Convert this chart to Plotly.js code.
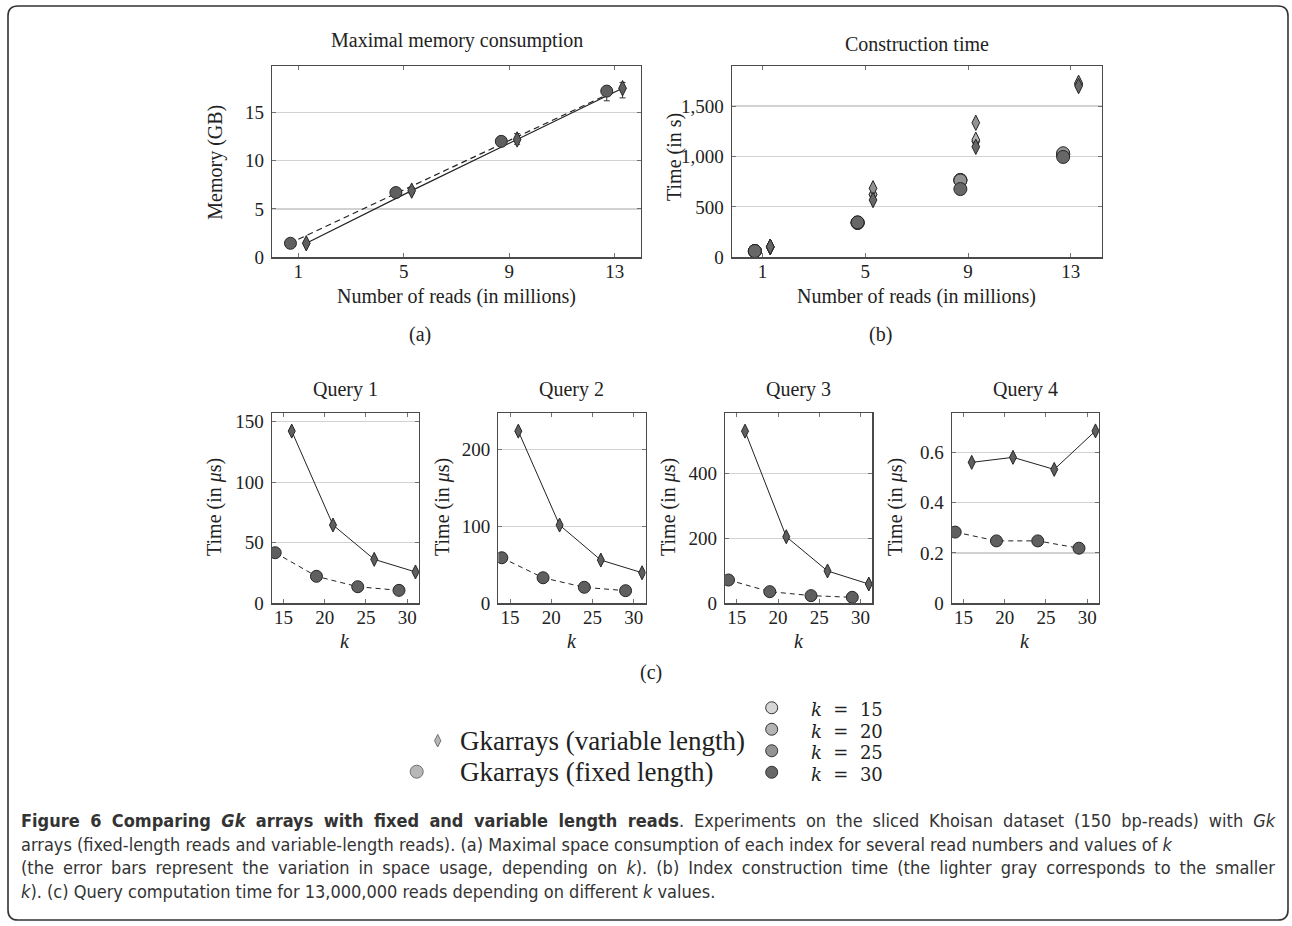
<!DOCTYPE html>
<html><head><meta charset="utf-8">
<script src="https://cdn.plot.ly/plotly-3.0.1.min.js"></script>
<style>html,body{margin:0;padding:0;background:#fff}#chart{width:1292px;height:926px}</style>
</head><body><div id="chart"></div><script>
// ---------- data ----------
const reads = [1, 5, 9, 13];
const memFixed = [1.45, 6.7, 12.0, 17.2];
const memFixedErrPlus = [0.15, 0.2, 0.25, 0.5];
const memFixedErrMinus = [0.15, 0.2, 0.25, 1.0];
const memVariable = [1.45, 6.9, 12.2, 17.5];
const memVarErrPlus = [0.2, 0.3, 0.6, 0.6];
const memVarErrMinus = [0.2, 0.3, 0.5, 1.0];
const memFixedTrend = [1.87, 7.0, 12.1, 17.2];

const kValues = [15, 20, 25, 30];
const kLabels = ['k = 15', 'k = 20', 'k = 25', 'k = 30'];
const kColors = ['#d6d6d6', '#b4b4b4', '#939393', '#676767'];

const buildFixedK15 = [60, 340, 766, 1020];
const buildFixedK20 = [62, 343, 766, 1022];
const buildFixedK25 = [62, 345, 762, 1032];
const buildFixedK30 = [62, 346, 677, 995];
const buildVarK15 = [100, 620, 1150, 1715];
const buildVarK20 = [103, 624, 1165, 1720];
const buildVarK25 = [105, 684, 1334, 1730];
const buildVarK30 = [105, 568, 1096, 1698];

const queryTitles = ['Query 1', 'Query 2', 'Query 3', 'Query 4'];
const q1Fixed = [41.8, 22.3, 13.7, 10.7];
const q1Var = [142.3, 64.7, 36.3, 25.9];
const q2Fixed = [59.2, 33.2, 20.8, 16.4];
const q2Var = [223.8, 101.7, 56.2, 39.7];
const q3Fixed = [71.7, 35.9, 23.6, 18.5];
const q3Var = [530, 205, 99.5, 59.4];
const q4Fixed = [0.283, 0.248, 0.248, 0.219];
const q4Var = [0.560, 0.580, 0.532, 0.685];

const seriesLabels = ['Gkarrays (variable length)', 'Gkarrays (fixed length)'];

// ---------- layout helpers ----------
const W = 1292, H = 926;
const px = x => x / W;
const py = y => 1 - y / H;
const SERIF = 'Liberation Serif, Times New Roman, serif';
const TXT = '#222';
const MARK = '#5f5f5f';
const EDGE = '#262626';

const readsFixedX = reads.map(r => r - 0.3);
const readsVarX = reads.map(r => r + 0.3);
const kFixedX = kValues.map(k => k - 1);
const kVarX = kValues.map(k => k + 1);

function xAxis(x0, x1, range, tickvals, anchor) {
  return {domain: [px(x0), px(x1)], range: range, tickvals: tickvals, anchor: anchor,
    showline: true, linecolor: '#4a4a4a', linewidth: 1.2, mirror: 'allticks',
    ticks: 'inside', ticklen: 4, tickwidth: 1, tickcolor: '#707070',
    showgrid: false, zeroline: false, fixedrange: true, ticklabelstandoff: -3,
    tickfont: {family: SERIF, size: 19, color: TXT}};
}
function yAxis(y0, y1, range, tickvals, anchor, fmt) {
  const a = {domain: [py(y1), py(y0)], range: range, tickvals: tickvals, anchor: anchor,
    showline: true, linecolor: '#4a4a4a', linewidth: 1.2, mirror: 'allticks',
    ticks: 'inside', ticklen: 4, tickwidth: 1, tickcolor: '#707070',
    showgrid: true, gridcolor: '#d2d2d2', gridwidth: 1.2, zeroline: false, fixedrange: true,
    ticklabelstandoff: 3,
    tickfont: {family: SERIF, size: 19, color: TXT}};
  if (fmt) a.tickformat = fmt;
  return a;
}

const circle = (size, color) => ({symbol: 'circle', size: size, color: color, line: {color: EDGE, width: 1}});
const diamond = (size, color) => ({symbol: 'diamond-tall', size: size, color: color, line: {color: EDGE, width: 1}});

const traces = [];
// ---- (a) memory ----
traces.push({x: reads, y: memFixedTrend, xaxis: 'x', yaxis: 'y', mode: 'lines',
  line: {color: '#222', width: 1.2, dash: '6px,4px'}, hoverinfo: 'skip'});
traces.push({x: readsVarX, y: memVariable, xaxis: 'x', yaxis: 'y', mode: 'lines+markers',
  line: {color: '#222', width: 1.2}, marker: diamond(11, MARK),
  error_y: {type: 'data', array: memVarErrPlus, arrayminus: memVarErrMinus, color: '#333', thickness: 1, width: 3}});
traces.push({x: readsFixedX, y: memFixed, xaxis: 'x', yaxis: 'y', mode: 'markers',
  marker: circle(12, MARK),
  error_y: {type: 'data', array: memFixedErrPlus, arrayminus: memFixedErrMinus, color: '#333', thickness: 1, width: 3}});

// ---- (b) construction time ----
const buildFixed = [buildFixedK15, buildFixedK20, buildFixedK25, buildFixedK30];
const buildVar = [buildVarK15, buildVarK20, buildVarK25, buildVarK30];
kValues.forEach((k, i) => {
  traces.push({x: readsFixedX, y: buildFixed[i], xaxis: 'x2', yaxis: 'y2', mode: 'markers',
    marker: circle(13, kColors[i]), name: 'fixed k=' + k});
  traces.push({x: readsVarX, y: buildVar[i], xaxis: 'x2', yaxis: 'y2', mode: 'markers',
    marker: diamond(11, kColors[i]), name: 'variable k=' + k});
});

// ---- (c) queries ----
const qFixed = [q1Fixed, q2Fixed, q3Fixed, q4Fixed];
const qVar = [q1Var, q2Var, q3Var, q4Var];
qFixed.forEach((f, i) => {
  const xa = 'x' + (i + 3), ya = 'y' + (i + 3);
  traces.push({x: kFixedX, y: f, xaxis: xa, yaxis: ya, mode: 'lines+markers',
    line: {color: '#222', width: 1, dash: '5px,4px'}, marker: circle(12, MARK)});
  traces.push({x: kVarX, y: qVar[i], xaxis: xa, yaxis: ya, mode: 'lines+markers',
    line: {color: '#222', width: 1}, marker: diamond(10, MARK)});
});

// ---- legend symbols (hidden axes, index based) ----
const legendSymbolX = [0, -1];
traces.push({x: legendSymbolX, y: [0, 1], xaxis: 'x7', yaxis: 'y7', mode: 'markers',
  marker: {symbol: ['diamond-tall', 'circle'], size: [9, 13], color: '#9a9a9a', line: {color: '#333', width: 1}},
  hoverinfo: 'skip'});
traces.push({x: kValues.map(() => 0), y: kValues.map((k, i) => i), xaxis: 'x8', yaxis: 'y8', mode: 'markers',
  marker: {symbol: 'circle', size: 12, color: kColors, line: {color: '#333', width: 1}}, hoverinfo: 'skip'});

// ---------- layout ----------
const hidden = (d, r) => ({domain: d, range: r, visible: false, fixedrange: true});
const layout = {
  width: W, height: H, margin: {l: 0, r: 0, t: 0, b: 0},
  paper_bgcolor: '#fff', plot_bgcolor: 'rgba(0,0,0,0)', showlegend: false,
  xaxis: xAxis(272, 641, [0, 14], reads, 'y'),
  yaxis: yAxis(66, 257.3, [0, 19.8], [0, 5, 10, 15], 'x'),
  xaxis2: xAxis(731.7, 1101.7, [-0.2, 14.2], reads, 'y2'),
  yaxis2: yAxis(65.7, 257.3, [0, 1900], [0, 500, 1000, 1500], 'x2', ',d'),
  xaxis3: xAxis(271.7, 419, [13.575, 31.425], kValues, 'y3'),
  yaxis3: yAxis(413.3, 603.3, [0, 157], [0, 50, 100, 150], 'x3'),
  xaxis4: xAxis(498.3, 645.6, [13.575, 31.425], kValues, 'y4'),
  yaxis4: yAxis(413.3, 603.3, [0, 247], [0, 100, 200], 'x4'),
  xaxis5: xAxis(725, 872.3, [13.575, 31.425], kValues, 'y5'),
  yaxis5: yAxis(413.3, 603.3, [0, 585], [0, 200, 400], 'x5'),
  xaxis6: xAxis(951.7, 1099, [13.575, 31.425], kValues, 'y6'),
  yaxis6: yAxis(413.3, 603.3, [0, 0.755], [0, 0.2, 0.4, 0.6], 'x6'),
  xaxis7: Object.assign(hidden([px(395.7), px(479.7)], [-2, 2]), {anchor: 'y7'}),
  yaxis7: Object.assign(hidden([py(787.2), py(725.2)], [1.5, -0.5]), {anchor: 'x7'}),
  xaxis8: Object.assign(hidden([px(751.7), px(791.7)], [-1, 1]), {anchor: 'y8'}),
  yaxis8: Object.assign(hidden([py(783), py(697)], [3.5, -0.5]), {anchor: 'x8'}),
  annotations: [], shapes: []
};

function note(text, x, y, opts) {
  layout.annotations.push(Object.assign({text: text, xref: 'paper', yref: 'paper', x: px(x), y: py(y),
    xanchor: 'center', yanchor: 'middle', showarrow: false,
    font: {family: SERIF, size: 20, color: TXT}}, opts || {}));
  return layout.annotations.length - 1;
}
// panel titles and axis labels
note('Maximal memory consumption', 456.5, 41);
note('Construction time', 916.7, 44.5);
note('Number of reads (in millions)', 456.7, 296);
note('Number of reads (in millions)', 916.7, 296);
note('(a)', 420, 334);
note('(b)', 880, 334);
note('Memory (GB)', 216, 161.7, {textangle: -90});
note('Time (in s)', 675, 157, {textangle: -90});
const qCenters = [345.3, 571.9, 798.6, 1025.3];
const qYLab = [215, 443, 669, 896];
queryTitles.forEach((t, i) => {
  note(t, qCenters[i], 389);
  note('Time (in <i>μ</i>s)', qYLab[i], 507, {textangle: -90});
  note('<i>k</i>', qCenters[i], 641);
});
note('(c)', 651, 672);

// legend labels
seriesLabels.forEach((s, i) => {
  note(s, 458, 740.7 + 31 * i, {xanchor: 'left', font: {family: SERIF, size: 27, color: TXT}});
});
kLabels.forEach((s, i) => {
  note('<i>k</i>&nbsp; =&nbsp; ' + s.split('= ')[1], 809, 709.5 + 21.5 * i,
    {xanchor: 'left', align: 'left', font: {family: 'DejaVu Serif, serif', size: 18, color: TXT}});
});

// caption
const CAP = 'DejaVu Sans Condensed, sans-serif';
const capLines = [
  '<b>Figure 6 Comparing <i>Gk</i> arrays with fixed and variable length reads</b>. Experiments on the sliced Khoisan dataset (150 bp-reads) with <i>Gk</i>',
  'arrays (fixed-length reads and variable-length reads). (a) Maximal space consumption of each index for several read numbers and values of <i>k</i>',
  '(the error bars represent the variation in space usage, depending on <i>k</i>). (b) Index construction time (the lighter gray corresponds to the smaller',
  '<i>k</i>). (c) Query computation time for 13,000,000 reads depending on different <i>k</i> values.'
];
const capJustify = [true, false, true, false];
const capY = [820, 844, 867.5, 891];
const capIdx = capLines.map((t, i) => note(t, 19, capY[i],
  {xanchor: 'left', align: 'left', font: {family: CAP, size: 18, color: '#333'}}));

// rounded frame
(function () {
  const x0 = 8, x1 = 1288, y0 = 6, y1 = 920, r = 10;
  const P = (x, y) => px(x).toFixed(5) + ',' + py(y).toFixed(5);
  const d = 'M' + P(x0 + r, y0) + ' L' + P(x1 - r, y0) + ' Q' + P(x1, y0) + ' ' + P(x1, y0 + r) +
    ' L' + P(x1, y1 - r) + ' Q' + P(x1, y1) + ' ' + P(x1 - r, y1) + ' L' + P(x0 + r, y1) +
    ' Q' + P(x0, y1) + ' ' + P(x0, y1 - r) + ' L' + P(x0, y0 + r) + ' Q' + P(x0, y0) + ' ' + P(x0 + r, y0) + ' Z';
  layout.shapes.push({type: 'path', xref: 'paper', yref: 'paper', path: d, line: {color: '#333', width: 1.6}, layer: 'below'});
})();

Plotly.newPlot('chart', traces, layout, {displayModeBar: false, staticPlot: true}).then(gd => {
  // justify the full caption lines to the text block width, as in the printed caption
  const target = 1273 - 19;
  capIdx.forEach((idx, i) => {
    if (!capJustify[i]) return;
    const g = gd.querySelector('.annotation[data-index="' + idx + '"]');
    if (!g) return;
    const t = g.querySelector('text.annotation-text') || g.querySelector('text');
    if (!t) return;
    const w = t.getComputedTextLength();
    const n = (t.textContent.match(/ /g) || []).length;
    if (n > 0 && w < target) t.style.wordSpacing = ((target - w) / n).toFixed(2) + 'px';
  });
});
</script></body></html>
